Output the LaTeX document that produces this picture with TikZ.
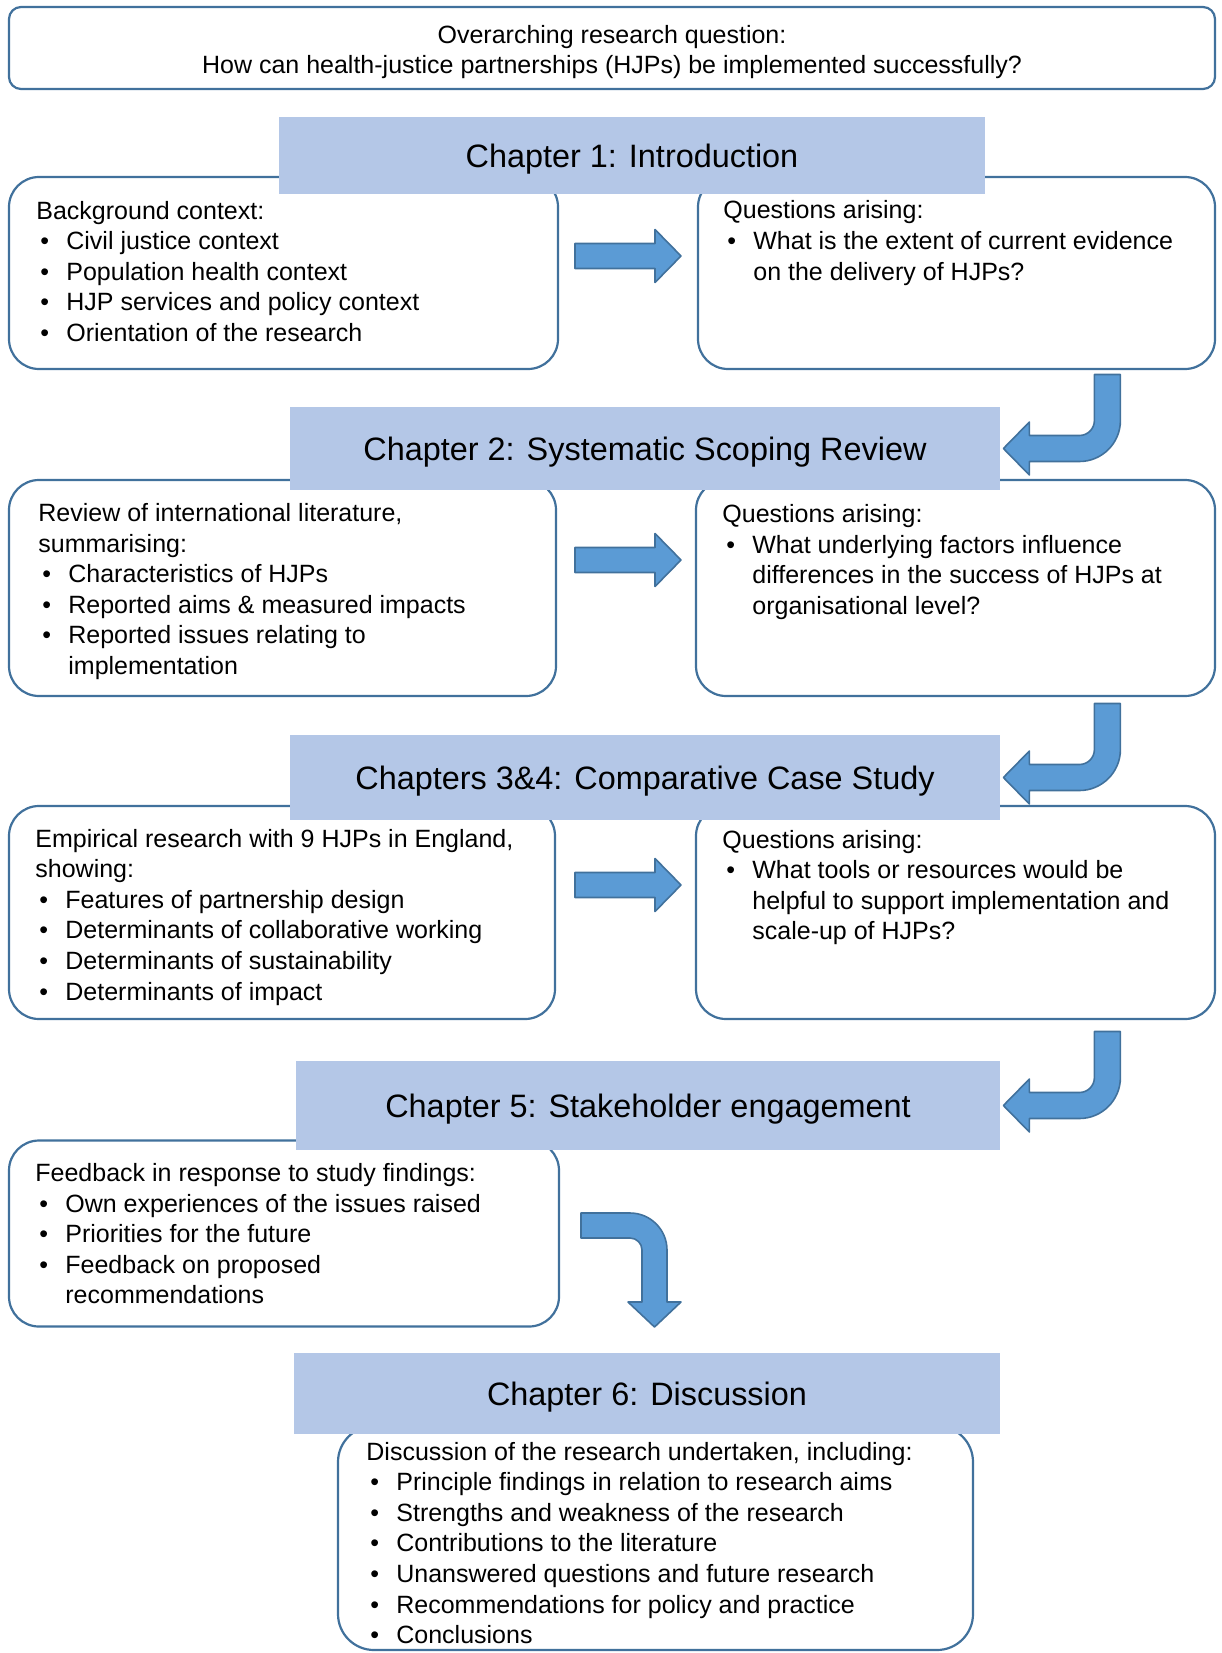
\documentclass[tikz,border=0pt]{standalone}
\usepackage{fontspec}
\setmainfont{Liberation Sans}
\usepackage{xcolor}
\usepackage{tikz}
\usetikzlibrary{positioning,calc}

\definecolor{hdrblue}{HTML}{B4C7E7}
\definecolor{arrblue}{HTML}{5B9BD5}
\definecolor{edgeblue}{HTML}{41719C}
\newcommand{\bul}{\makebox[15pt][l]{\hspace{2pt}\textbullet}}
\newcommand{\ind}{\hspace*{15pt}}

\begin{document}
\begin{tikzpicture}[x=0.5pt, y=-0.5pt,
  hdr/.style={rectangle, fill=hdrblue, inner sep=0pt, text height=15.5pt,
              text depth=3.5pt, font=\fontsize{16.2}{19}\selectfont},
  qbox/.style={rectangle, draw=edgeblue, line width=1.1pt, fill=white,
               rounded corners=15pt, inner sep=0pt},
  txt/.style={anchor=base west, inner sep=0pt, align=left,
              font=\fontsize{12.5}{15.3}\selectfont},
  blk/.style={fill=arrblue, draw=edgeblue, line width=0.8pt, line join=round}
]
\useasboundingbox (0,0) rectangle (1221,1653);

% boxes
\node[qbox, rounded corners=6pt, minimum width=603pt, minimum height=41pt]
      (rq)   at (612,48) {};
\node[qbox, minimum width=274.5pt, minimum height=96pt]  (bg)   at (283.5,273) {};
\node[qbox, minimum width=258.5pt, minimum height=96pt]  (qa1)  at (956.5,273) {};
\node[qbox, minimum width=273.5pt, minimum height=108pt] (rev)  at (282.5,588) {};
\node[qbox, minimum width=259.5pt, minimum height=108pt] (qa2)  at (955.5,588) {};
\node[qbox, minimum width=273pt, minimum height=106.5pt] (emp)  at (282,912.5) {};
\node[qbox, minimum width=259.5pt, minimum height=106.5pt] (qa3) at (955.5,912.5) {};
\node[qbox, minimum width=275pt, minimum height=93pt]    (fb)   at (284,1233.5) {};
\node[qbox, rounded corners=18pt, minimum width=317.5pt, minimum height=112pt]
      (disc) at (655.5,1538) {};

% chapter headers
\node[hdr, minimum width=353pt, minimum height=38.5pt] (ch1)  at (632,155.5)
      {Chapter 1: Introduction};
\node[hdr, minimum width=355pt, minimum height=41.5pt] (ch2)  at (645,448.5)
      {Chapter 2: Systematic Scoping Review};
\node[hdr, minimum width=355pt, minimum height=42.5pt] (ch34) at (645,777.5)
      {Chapters 3\&4: Comparative Case Study};
\node[hdr, minimum width=352pt, minimum height=44.5pt] (ch5)  at (648,1105.5)
      {Chapter 5: Stakeholder engagement};
\node[hdr, minimum width=353pt, minimum height=40.5pt] (ch6)  at (647,1393.5)
      {Chapter 6: Discussion};

% texts (placed at the baseline of their last line)
\node[txt, anchor=base, align=center] (rqtxt) at (612,74)
      {Overarching research question:\\
       How can health-justice partnerships (HJPs) be implemented successfully?};
\node[txt] (bgtxt) at (36,341.4)
      {Background context:\\
       \bul Civil justice context\\
       \bul Population health context\\
       \bul HJP services and policy context\\
       \bul Orientation of the research};
\node[txt] (qa1txt) at (723,280.2)
      {Questions arising:\\
       \bul What is the extent of current evidence\\
       \ind on the delivery of HJPs?};
\node[txt] (revtxt) at (38,674.5)
      {Review of international literature,\\
       summarising:\\
       \bul Characteristics of HJPs\\
       \bul Reported aims \& measured impacts\\
       \bul Reported issues relating to\\
       \ind implementation};
\node[txt] (qa2txt) at (722,614.3)
      {Questions arising:\\
       \bul What underlying factors influence\\
       \ind differences in the success of HJPs at\\
       \ind organisational level?};
\node[txt] (emptxt) at (35,1000)
      {Empirical research with 9 HJPs in England,\\
       showing:\\
       \bul Features of partnership design\\
       \bul Determinants of collaborative working\\
       \bul Determinants of sustainability\\
       \bul Determinants of impact};
\node[txt] (qa3txt) at (722,939.8)
      {Questions arising:\\
       \bul What tools or resources would be\\
       \ind helpful to support implementation and\\
       \ind scale-up of HJPs?};
\node[txt] (fbtxt) at (35,1303.9)
      {Feedback in response to study findings:\\
       \bul Own experiences of the issues raised\\
       \bul Priorities for the future\\
       \bul Feedback on proposed\\
       \ind recommendations};
\node[txt] (disctxt) at (366,1643.6)
      {Discussion of the research undertaken, including:\\
       \bul Principle findings in relation to research aims\\
       \bul Strengths and weakness of the research\\
       \bul Contributions to the literature\\
       \bul Unanswered questions and future research\\
       \bul Recommendations for policy and practice\\
       \bul Conclusions};

% arrow tips
\coordinate (r1) at (681,256);
\coordinate (r2) at (681,560);
\coordinate (r3) at (681,885);
\coordinate (t1) at ([xshift=1.5pt]ch2.east);
\coordinate (t2) at ([xshift=1.5pt]ch34.east);
\coordinate (t3) at ([xshift=1.5pt]ch5.east);
\coordinate (t4) at (654.5,1327);

% right arrows
\draw[blk, shift={(r1)}] (-106,-12.5) -- (-26,-12.5) -- (-26,-26.5) -- (0,0)
      -- (-26,26.5) -- (-26,12.5) -- (-106,12.5) -- cycle;
\draw[blk, shift={(r2)}] (-106,-12.5) -- (-26,-12.5) -- (-26,-26.5) -- (0,0)
      -- (-26,26.5) -- (-26,12.5) -- (-106,12.5) -- cycle;
\draw[blk, shift={(r3)}] (-106,-12.5) -- (-26,-12.5) -- (-26,-26.5) -- (0,0)
      -- (-26,26.5) -- (-26,12.5) -- (-106,12.5) -- cycle;

% bent arrows to the next chapter
\draw[blk, shift={(t1)}] (91,-74) -- (91,-28) .. controls (91,-19.7) and (84.3,-13) .. (76,-13)
      -- (26,-13) -- (26,-26.5) -- (0,0) -- (26,26.5) -- (26,13) -- (76,13)
      .. controls (98.6,13) and (117,-5.4) .. (117,-28) -- (117,-74) -- cycle;
\draw[blk, shift={(t2)}] (91,-74) -- (91,-28) .. controls (91,-19.7) and (84.3,-13) .. (76,-13)
      -- (26,-13) -- (26,-26.5) -- (0,0) -- (26,26.5) -- (26,13) -- (76,13)
      .. controls (98.6,13) and (117,-5.4) .. (117,-28) -- (117,-74) -- cycle;
\draw[blk, shift={(t3)}] (91,-74) -- (91,-28) .. controls (91,-19.7) and (84.3,-13) .. (76,-13)
      -- (26,-13) -- (26,-26.5) -- (0,0) -- (26,26.5) -- (26,13) -- (76,13)
      .. controls (98.6,13) and (117,-5.4) .. (117,-28) -- (117,-74) -- cycle;

% down arrow to chapter 6
\draw[blk, shift={(t4)}] (-73.5,-114) -- (-24.5,-114)
      .. controls (-4.1,-114) and (12.5,-97.4) .. (12.5,-77) -- (12.5,-25)
      -- (26.5,-25) -- (0,0) -- (-26.5,-25) -- (-12.5,-25) -- (-12.5,-77)
      .. controls (-12.5,-83.6) and (-17.9,-89) .. (-24.5,-89) -- (-73.5,-89) -- cycle;
\end{tikzpicture}
\end{document}
